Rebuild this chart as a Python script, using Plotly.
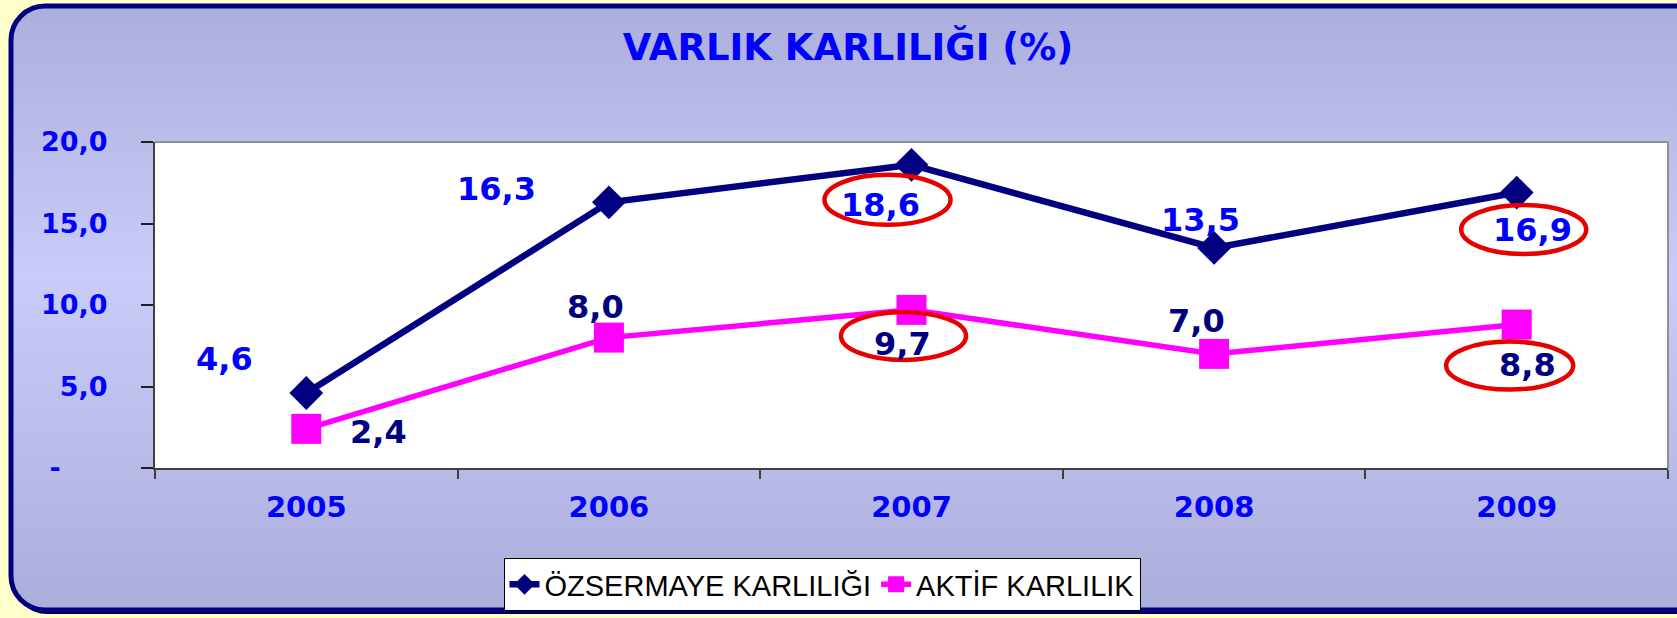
import base64
import plotly.graph_objects as go

# data
years = [2005, 2006, 2007, 2008, 2009]
ozsermaye = [4.6, 16.3, 18.6, 13.5, 16.9]
aktif = [2.4, 8.0, 9.7, 7.0, 8.8]
circled_years = [2007, 2009]
y_tickvals = [0, 5, 10, 15, 20]
y_ticktext = ["-\u00a0\u00a0\u00a0\u00a0\u00a0", "5,0", "10,0", "15,0", "20,0"]

W, H = 1677, 618
ML, MR, MT, MB = 155, 9, 142, 150
PW, PH = W - ML - MR, H - MT - MB

NAVY = "#000080"
PINK = "#FF00FF"
BLUE = "#0000FF"
RED = "#E60000"
BOLD = "DejaVu Sans"


def fmt(v):
    return f"{v:.1f}".replace(".", ",")


# label offsets from their point, screen pixels (dx right, dy down)
oz_off = [(-82, -34), (-112, -13), (-31, 40), (-14, -28), (16, 37)]
ak_off = [(72, 3), (-13, -31), (-9, 34), (-18, -33), (11, 40)]
# red rings: (dx, dy, w, h)
oz_ring = {2007: (-24, 35, 126, 50), 2009: (7, 37, 125, 49)}
ak_ring = {2007: (-8, 26, 125, 48), 2009: (-7, 41, 127, 48)}

# rounded frame with a vertical gradient, drawn as an svg image behind everything
svg = f'''<svg xmlns="http://www.w3.org/2000/svg" width="{W}" height="{H}" viewBox="0 0 {W} {H}" preserveAspectRatio="none">
<defs><linearGradient id="g" x1="0" y1="0" x2="0" y2="1">
<stop offset="0" stop-color="#ACAEDB"/><stop offset="0.45" stop-color="#C9CBF9"/><stop offset="1" stop-color="#ABADDA"/>
</linearGradient></defs>
<rect width="{W}" height="{H}" fill="#FFFFCC"/>
<rect x="13" y="9" width="1700" height="605" rx="34" fill="#000040"/>
<rect x="11" y="6" width="1700" height="604" rx="34" fill="url(#g)" stroke="{NAVY}" stroke-width="5"/>
</svg>'''
bg_src = "data:image/svg+xml;base64," + base64.b64encode(svg.encode()).decode()

fig = go.Figure()
fig.add_trace(go.Scatter(
    x=years, y=ozsermaye, name="ÖZSERMAYE KARLILIĞI", mode="lines+markers",
    line=dict(color=NAVY, width=6.5),
    marker=dict(symbol="diamond", size=26, color=NAVY),
))
fig.add_trace(go.Scatter(
    x=years, y=aktif, name="AKTİF KARLILIK", mode="lines+markers",
    line=dict(color=PINK, width=5.5),
    marker=dict(symbol="square", size=30, color=PINK),
))

for vals, offs, col in [(ozsermaye, oz_off, BLUE), (aktif, ak_off, NAVY)]:
    for yr, v, (dx, dy) in zip(years, vals, offs):
        fig.add_annotation(x=yr, y=v, text=fmt(v), showarrow=False,
                           xshift=dx, yshift=-dy,
                           font=dict(family=BOLD, size=32, color=col, weight="bold"))

for vals, rings in [(ozsermaye, oz_ring), (aktif, ak_ring)]:
    for yr in circled_years:
        v = vals[years.index(yr)]
        dx, dy, w, h = rings[yr]
        fig.add_shape(type="circle", xref="x", yref="y",
                      xsizemode="pixel", ysizemode="pixel", xanchor=yr, yanchor=v,
                      x0=dx - w / 2, x1=dx + w / 2, y0=-dy - h / 2, y1=-dy + h / 2,
                      line=dict(color=RED, width=4.5), layer="above")

# white plot area (drawn over the background image) and its grey top/right border
fig.add_shape(type="rect", xref="paper", yref="paper", x0=0, x1=1, y0=0, y1=1,
              fillcolor="white", line=dict(width=0), layer="below")
fig.add_shape(type="line", xref="paper", yref="paper", x0=0, x1=1, y0=1, y1=1,
              line=dict(color="#909090", width=2))
fig.add_shape(type="line", xref="paper", yref="paper", x0=1, x1=1, y0=0, y1=1,
              line=dict(color="#909090", width=2))

fig.add_layout_image(source=bg_src, xref="paper", yref="paper",
                     x=-ML / PW, y=(PH + MT) / PH, sizex=W / PW, sizey=H / PH,
                     xanchor="left", yanchor="top", sizing="stretch", layer="below")

fig.update_layout(
    width=W, height=H,
    margin=dict(l=ML, r=MR, t=MT, b=MB, autoexpand=False),
    paper_bgcolor="#FFFFCC", plot_bgcolor="white",
    title=dict(text="VARLIK KARLILIĞI (%)", x=848 / W, xref="container", xanchor="center",
               y=1 - 47 / H, yref="container", yanchor="middle",
               font=dict(family=BOLD, size=37, color=BLUE, weight="bold")),
    showlegend=True,
    legend=dict(orientation="h", x=(822 - ML) / PW, xanchor="center",
                y=-(558 - MT - PH) / PH, yanchor="top",
                bgcolor="white", bordercolor="black", borderwidth=1,
                font=dict(family="Liberation Sans", size=29, color="black"),
                itemclick=False, itemdoubleclick=False),
    hovermode=False,
)

fig.update_xaxes(
    range=[years[0] - 0.5, years[-1] + 0.5],
    tickvals=years, ticktext=[str(y) for y in years], ticks="",
    tickfont=dict(family=BOLD, size=29, color=BLUE, weight="bold"),
    ticklabelstandoff=12,
    minor=dict(tickmode="array", tickvals=[y - 0.5 for y in years] + [years[-1] + 0.5],
               ticks="outside", ticklen=9, tickcolor="#404040", tickwidth=2),
    showline=True, linecolor="#404040", linewidth=2, automargin=False,
    showgrid=False, zeroline=False, fixedrange=True,
)
fig.update_yaxes(
    range=[0, 20], tickvals=y_tickvals, ticktext=y_ticktext,
    ticks="outside", ticklen=12, tickcolor="#202020", tickwidth=1.5,
    tickfont=dict(family=BOLD, size=27, color=BLUE, weight="bold"),
    ticklabelstandoff=28,
    showline=True, linecolor="#404040", linewidth=2, automargin=False,
    showgrid=False, zeroline=False, fixedrange=True,
)

# the page's default body margin would push the figure 8px off the window
fig.write_html("out.html", config={"displayModeBar": False},
               post_script="document.body.style.margin='0px';")
